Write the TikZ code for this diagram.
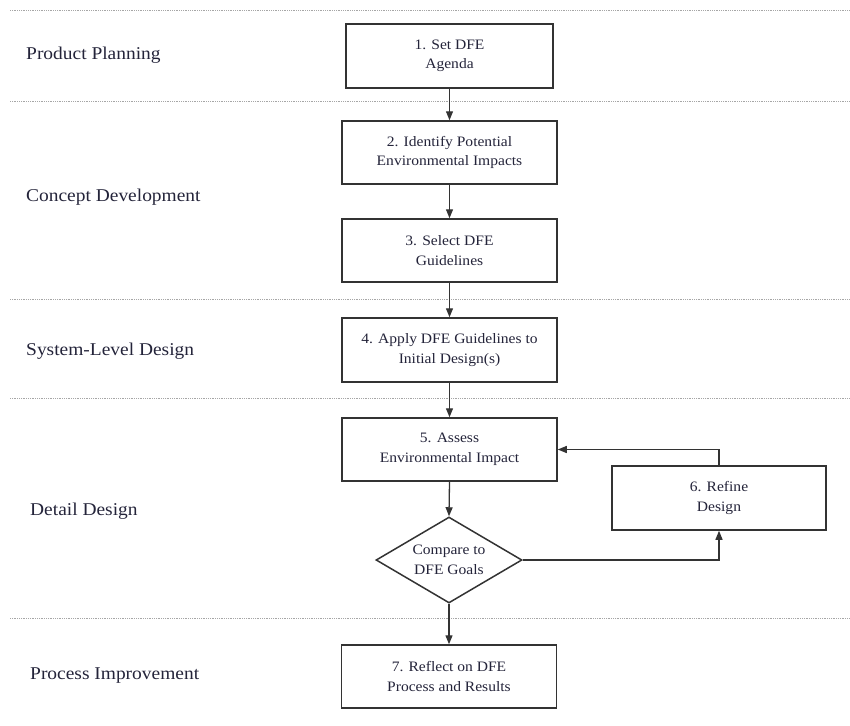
\documentclass[tikz,border=0pt]{standalone}
\usepackage{fontspec}
\setmainfont[FakeStretch=1.08]{Liberation Serif}
\usetikzlibrary{shapes.geometric,arrows.meta}
\definecolor{ink}{HTML}{24243A}
\definecolor{edge}{HTML}{333333}
\tikzset{
  stepbox/.style={draw=edge, line width=1.5pt, fill=white, minimum width=215pt, minimum height=63pt, inner sep=0pt, align=center, text=ink, font=\fontsize{14.4}{19.5}\selectfont},
  phase/.style={anchor=west, text=ink, font=\fontsize{18}{22}\selectfont, inner sep=0pt},
  sep/.style={draw=gray!70, line width=0.9pt, dash pattern=on 0.9pt off 0.9pt},
  flow/.style={draw=edge, line width=1.3pt, -{Triangle[length=9pt,width=7pt]}}
}
\begin{document}
\begin{tikzpicture}[x=1pt,y=-1pt]
\useasboundingbox (0,0) rectangle (850,725);
% separators
\coordinate (s1a) at (10,10);  \coordinate (s1b) at (850,10);
\coordinate (s2a) at (10,101); \coordinate (s2b) at (850,101);
\coordinate (s3a) at (10,299); \coordinate (s3b) at (850,299);
\coordinate (s4a) at (10,398); \coordinate (s4b) at (850,398);
\coordinate (s5a) at (10,618); \coordinate (s5b) at (850,618);
\draw[sep] (s1a) -- (s1b);
\draw[sep] (s2a) -- (s2b);
\draw[sep] (s3a) -- (s3b);
\draw[sep] (s4a) -- (s4b);
\draw[sep] (s5a) -- (s5b);
% phase labels
\node[phase] (p1) at (26,55) {Product Planning};
\node[phase] (p2) at (26,197) {Concept Development};
\node[phase] (p3) at (26,351) {System-Level Design};
\node[phase] (p4) at (30,511) {Detail Design};
\node[phase] (p5) at (30,676) {Process Improvement};
% steps
\node[stepbox, minimum width=207pt, minimum height=64pt] (b1) at (449.5,56) {1. Set DFE\\Agenda};
\node[stepbox] (b2) at (449.5,152.5) {2. Identify Potential\\Environmental Impacts};
\node[stepbox] (b3) at (449.5,250.5) {3. Select DFE\\Guidelines};
\node[stepbox, minimum height=64pt] (b4) at (449.5,350) {4. Apply DFE Guidelines to\\Initial Design(s)};
\node[stepbox] (b5) at (449.5,449.5) {5. Assess\\Environmental Impact};
\node[stepbox, minimum width=214pt, minimum height=64pt] (b6) at (719,498) {6. Refine\\Design};
\node[diamond, draw=edge, line width=1.5pt, fill=white, minimum width=146pt, minimum height=86pt, inner sep=0pt,
      label={[align=center, text=ink, font=\fontsize{14.4}{19.5}\selectfont]center:Compare to\\DFE Goals}] (d) at (449,560) {};
\node[stepbox] (b7) at (449,676.5) {7. Reflect on DFE\\Process and Results};
% connectors
\draw[flow] (b1.south) -- (b2.north);
\draw[flow] (b2.south) -- (b3.north);
\draw[flow] (b3.south) -- (b4.north);
\draw[flow] (b4.south) -- (b5.north);
\draw[flow] (b5.south) -- (d.north);
\draw[flow] (d.south) -- (b7.north);
\draw[flow] (d.east) -| (b6.south);
\draw[flow] (b6.north) |- (b5.east);
\end{tikzpicture}
\end{document}
